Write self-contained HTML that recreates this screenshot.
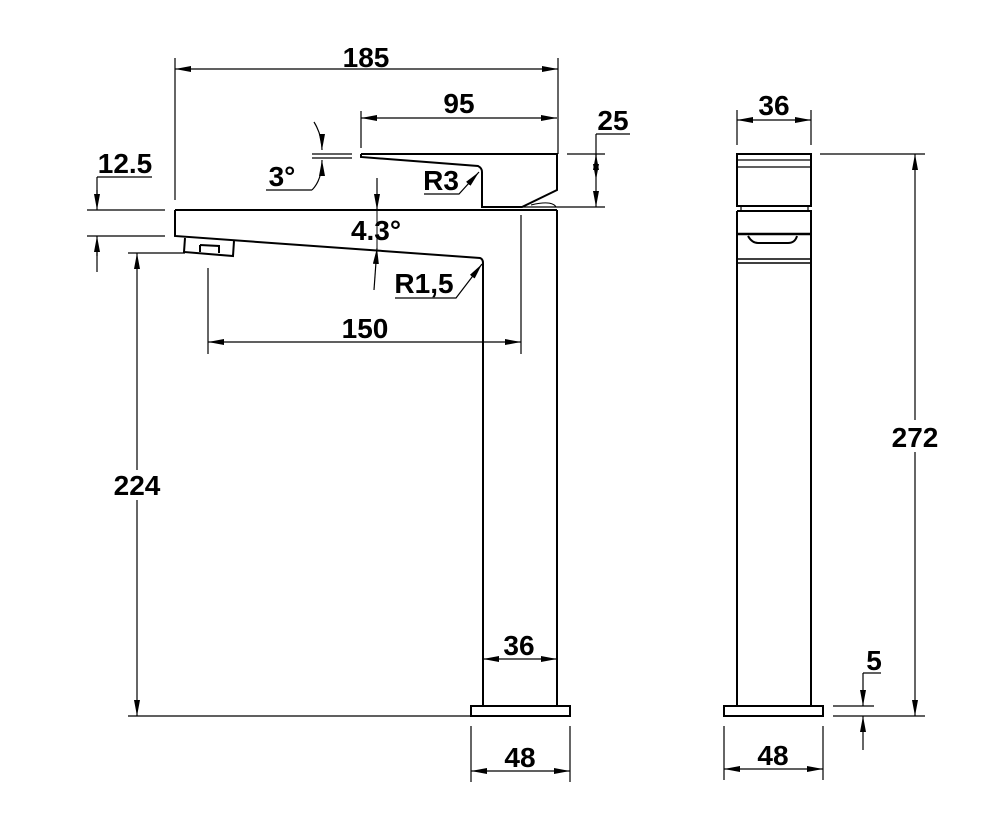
<!DOCTYPE html>
<html><head><meta charset="utf-8"><style>
html,body{margin:0;padding:0;background:#fff;}
svg{display:block;}
text{font-family:"Liberation Sans",Arial,sans-serif;font-weight:bold;font-size:28px;fill:#000;}
</style></head><body>
<svg width="1000" height="837" viewBox="0 0 1000 837" xmlns="http://www.w3.org/2000/svg">
<defs>
<marker id="a" viewBox="0 0 16 6" refX="16" refY="3" markerWidth="16" markerHeight="6" markerUnits="userSpaceOnUse" orient="auto-start-reverse">
<path d="M0,0 L16,3 L0,6 Z" fill="#000"/></marker>
</defs>
<g fill="none" stroke="#000">
<g stroke-width="2">
<path d="M175,210 L557,210 M175,210 L175,236 L480,258 Q483,259 483,263 L483,706 M557,210 L557,706"/>
<path d="M185,238 L184,252 L233,256 L234,241"/>
<path d="M200,245 L219,246 L219,253 M200,245 L200,252"/>
<rect x="471" y="706" width="99" height="10"/>
<path d="M361,154 L557,154 L557,190 L522,207 L488,207 M361,154 L361,157 L478,166 Q482,168 482,172 L482,207 L488,207"/>
</g>
<g stroke-width="1.2">
<path d="M175,200 L175,58 M558,154 L558,58" />
<path d="M175,69 L558,69" marker-start="url(#a)" marker-end="url(#a)"/>
<path d="M361,148 L361,111"/>
<path d="M361,118 L557,118" marker-start="url(#a)" marker-end="url(#a)"/>
<path d="M567,154 L605,154 M490,207 L605,207 M596,134 L630,134 M596,134 L596,154"/>
<path d="M596,160 L596,154" marker-end="url(#a)"/>
<path d="M596,180 L596,154" marker-start="url(#a)"/>
<path d="M596,180 L596,207" marker-end="url(#a)"/>
<path d="M531,205 Q552,200 556,207" stroke-width="1"/>
<path d="M87,210 L165,210 M87,236 L165,236 M97,177 L152,177 M97,177 L97,194 M97,252 L97,272"/>
<path d="M97,190 L97,210" marker-end="url(#a)"/>
<path d="M97,256 L97,236" marker-end="url(#a)"/>
<path d="M314,122 Q322,135 322,150" marker-end="url(#a)"/>
<path d="M312,154 L352,154 M312,158 L352,158"/>
<path d="M312,190 Q322,180 322,160" marker-end="url(#a)"/>
<path d="M266,190 L312,190"/>
<path d="M377,178 L377,210" marker-end="url(#a)"/>
<path d="M374,290 L377,248" marker-end="url(#a)"/>
<path d="M377,210 L377,248" stroke-width="1"/>
<path d="M424,194 L459,194 L479,172" marker-end="url(#a)"/>
<path d="M395,298 L456,298 L482,264" marker-end="url(#a)"/>
<path d="M208,268 L208,354 M521,215 L521,354"/>
<path d="M208,342 L521,342" marker-start="url(#a)" marker-end="url(#a)"/>
<path d="M128,253 L185,253 M128,716 L471,716"/>
<path d="M137,470 L137,253" marker-end="url(#a)"/>
<path d="M137,500 L137,716" marker-end="url(#a)"/>
<path d="M483,659 L557,659" marker-start="url(#a)" marker-end="url(#a)"/>
<path d="M471,726 L471,782 M570,726 L570,782"/>
<path d="M471,771 L570,771" marker-start="url(#a)" marker-end="url(#a)"/>
</g>
<g stroke-width="2">
<rect x="737" y="154" width="74" height="52"/>
<path d="M737,211 L812,211 M737,211 L737,706 M811,211 L811,706"/>
<path d="M737,234 L811,234" stroke-width="2.5"/>
<path d="M748,236 Q752,243 758,243 L788,243 Q795,243 797,236"/>
<path d="M737,259 L811,259 M737,263 L811,263" stroke-width="1.4"/>
<rect x="724" y="706" width="99" height="10"/>
</g>
<g stroke-width="1.2">
<path d="M737,160 L811,160 M737,167 L811,167 M741,206 L741,211 M808,206 L808,211"/>
<path d="M737,110 L737,145 M811,110 L811,145"/>
<path d="M737,120 L811,120" marker-start="url(#a)" marker-end="url(#a)"/>
<path d="M820,154 L925,154 M833,716 L925,716 M833,706 L874,706"/>
<path d="M915,420 L915,154" marker-end="url(#a)"/>
<path d="M915,452 L915,716" marker-end="url(#a)"/>
<path d="M724,726 L724,780 M823,726 L823,780"/>
<path d="M724,769 L823,769" marker-start="url(#a)" marker-end="url(#a)"/>
<path d="M863,673 L881,673 M863,673 L863,706" marker-end="url(#a)"/>
<path d="M863,750 L863,716" marker-end="url(#a)"/>
</g>
</g>
<text x="366" y="67" text-anchor="middle">185</text>
<text x="459" y="113" text-anchor="middle">95</text>
<text x="613" y="130" text-anchor="middle">25</text>
<text x="125" y="173" text-anchor="middle">12.5</text>
<text x="282" y="186" text-anchor="middle">3°</text>
<text x="376" y="240" text-anchor="middle">4.3°</text>
<text x="441" y="190" text-anchor="middle">R3</text>
<text x="424" y="293" text-anchor="middle">R1,5</text>
<text x="365" y="338" text-anchor="middle">150</text>
<text x="137" y="495" text-anchor="middle">224</text>
<text x="519" y="655" text-anchor="middle">36</text>
<text x="520" y="767" text-anchor="middle">48</text>
<text x="774" y="115" text-anchor="middle">36</text>
<text x="915" y="447" text-anchor="middle">272</text>
<text x="773" y="765" text-anchor="middle">48</text>
<text x="874" y="670" text-anchor="middle">5</text>
</svg>
</body></html>
